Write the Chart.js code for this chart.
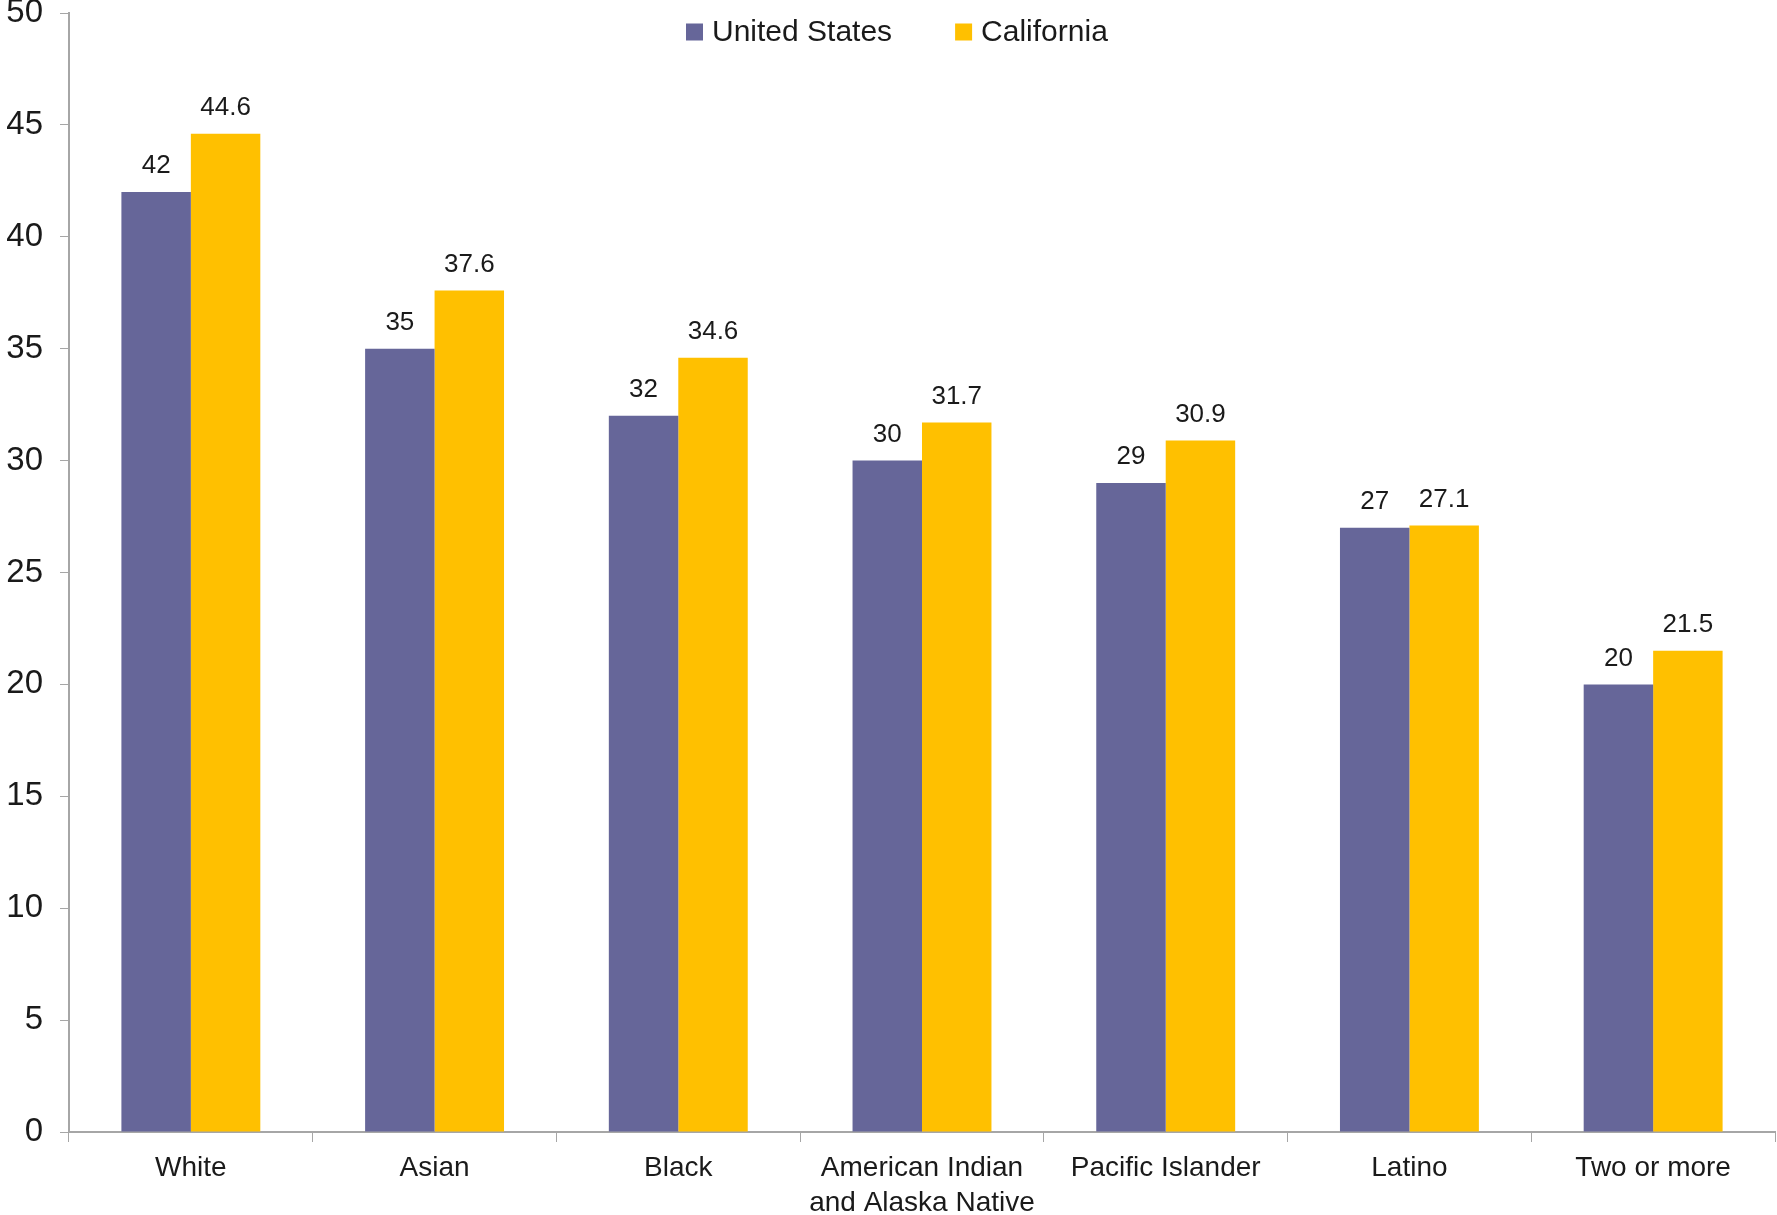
<!DOCTYPE html>
<html>
<head>
<meta charset="utf-8">
<script src="https://cdn.jsdelivr.net/npm/chart.js@4"></script>
<style>
  body { margin: 0; background: #fff; }
  canvas { display: block; }
</style>
</head>
<body>
<canvas id="ageChart" width="1777" height="1215"></canvas>
<script>
const categories = ["White", "Asian", "Black", ["American Indian", "and Alaska Native"], "Pacific Islander", "Latino", "Two or more"];
const usValues = [42, 35, 32, 30, 29, 27, 20];
const caValues = [44.6, 37.6, 34.6, 31.7, 30.9, 27.1, 21.5];
const yTicks = [0, 5, 10, 15, 20, 25, 30, 35, 40, 45, 50];

const FONT = "'Liberation Sans', Arial, sans-serif";
const TEXT = "#1a1a1a";
const AXIS = "#a6a6a6";

// value printed above every bar
const barLabels = {
  id: "barLabels",
  afterDatasetsDraw(chart) {
    const ctx = chart.ctx;
    ctx.save();
    ctx.font = "26px " + FONT;
    ctx.fillStyle = TEXT;
    ctx.textAlign = "center";
    ctx.textBaseline = "bottom";
    chart.data.datasets.forEach((ds, i) => {
      chart.getDatasetMeta(i).data.forEach((bar, j) => {
        ctx.fillText(String(ds.data[j]), bar.x, bar.y - 13);
      });
    });
    ctx.restore();
  }
};

// single-row legend sitting inside the plot, near the top
const topLegend = {
  id: "topLegend",
  afterDraw(chart) {
    const ctx = chart.ctx;
    const box = 17;
    const cy = chart.chartArea.top + 19;
    let x = 686;
    ctx.save();
    ctx.font = "30px " + FONT;
    ctx.textBaseline = "middle";
    ctx.textAlign = "left";
    chart.data.datasets.forEach(ds => {
      ctx.fillStyle = ds.backgroundColor;
      ctx.fillRect(x, cy - box / 2, box, box);
      ctx.fillStyle = TEXT;
      ctx.fillText(ds.label, x + box + 9, cy + 1);
      x += box + 9 + ctx.measureText(ds.label).width + 63;
    });
    ctx.restore();
  }
};

new Chart(document.getElementById("ageChart"), {
  type: "bar",
  data: {
    labels: categories,
    datasets: [
      { label: "United States", data: usValues, backgroundColor: "#666699" },
      { label: "California", data: caValues, backgroundColor: "#ffc000" }
    ]
  },
  plugins: [barLabels, topLegend],
  options: {
    responsive: false,
    animation: false,
    layout: { padding: { top: 0, right: 2, left: 0, bottom: 0 } },
    datasets: {
      bar: { categoryPercentage: 0.57, barPercentage: 1.0 }
    },
    plugins: {
      tooltip: { enabled: false },
      legend: { display: false }
    },
    scales: {
      x: {
        grid: {
          display: true,
          offset: true,
          drawOnChartArea: false,
          drawTicks: true,
          tickLength: 10,
          color: AXIS
        },
        border: { color: AXIS, width: 2 },
        ticks: {
          color: TEXT,
          padding: 9,
          maxRotation: 0,
          font: { family: FONT, size: 28, lineHeight: 1.25 }
        },
        afterFit(scale) { scale.height = 83; }
      },
      y: {
        min: 0,
        max: 50,
        afterBuildTicks(scale) { scale.ticks = yTicks.map(v => ({ value: v })); },
        grid: {
          drawOnChartArea: false,
          drawTicks: true,
          tickLength: 9,
          color: AXIS
        },
        border: { color: AXIS, width: 2 },
        ticks: {
          color: TEXT,
          padding: 17,
          font: { family: FONT, size: 33 }
        },
        afterFit(scale) {
          scale.width = 69;
          scale.paddingTop = 13;
        }
      }
    }
  }
});
</script>
</body>
</html>
